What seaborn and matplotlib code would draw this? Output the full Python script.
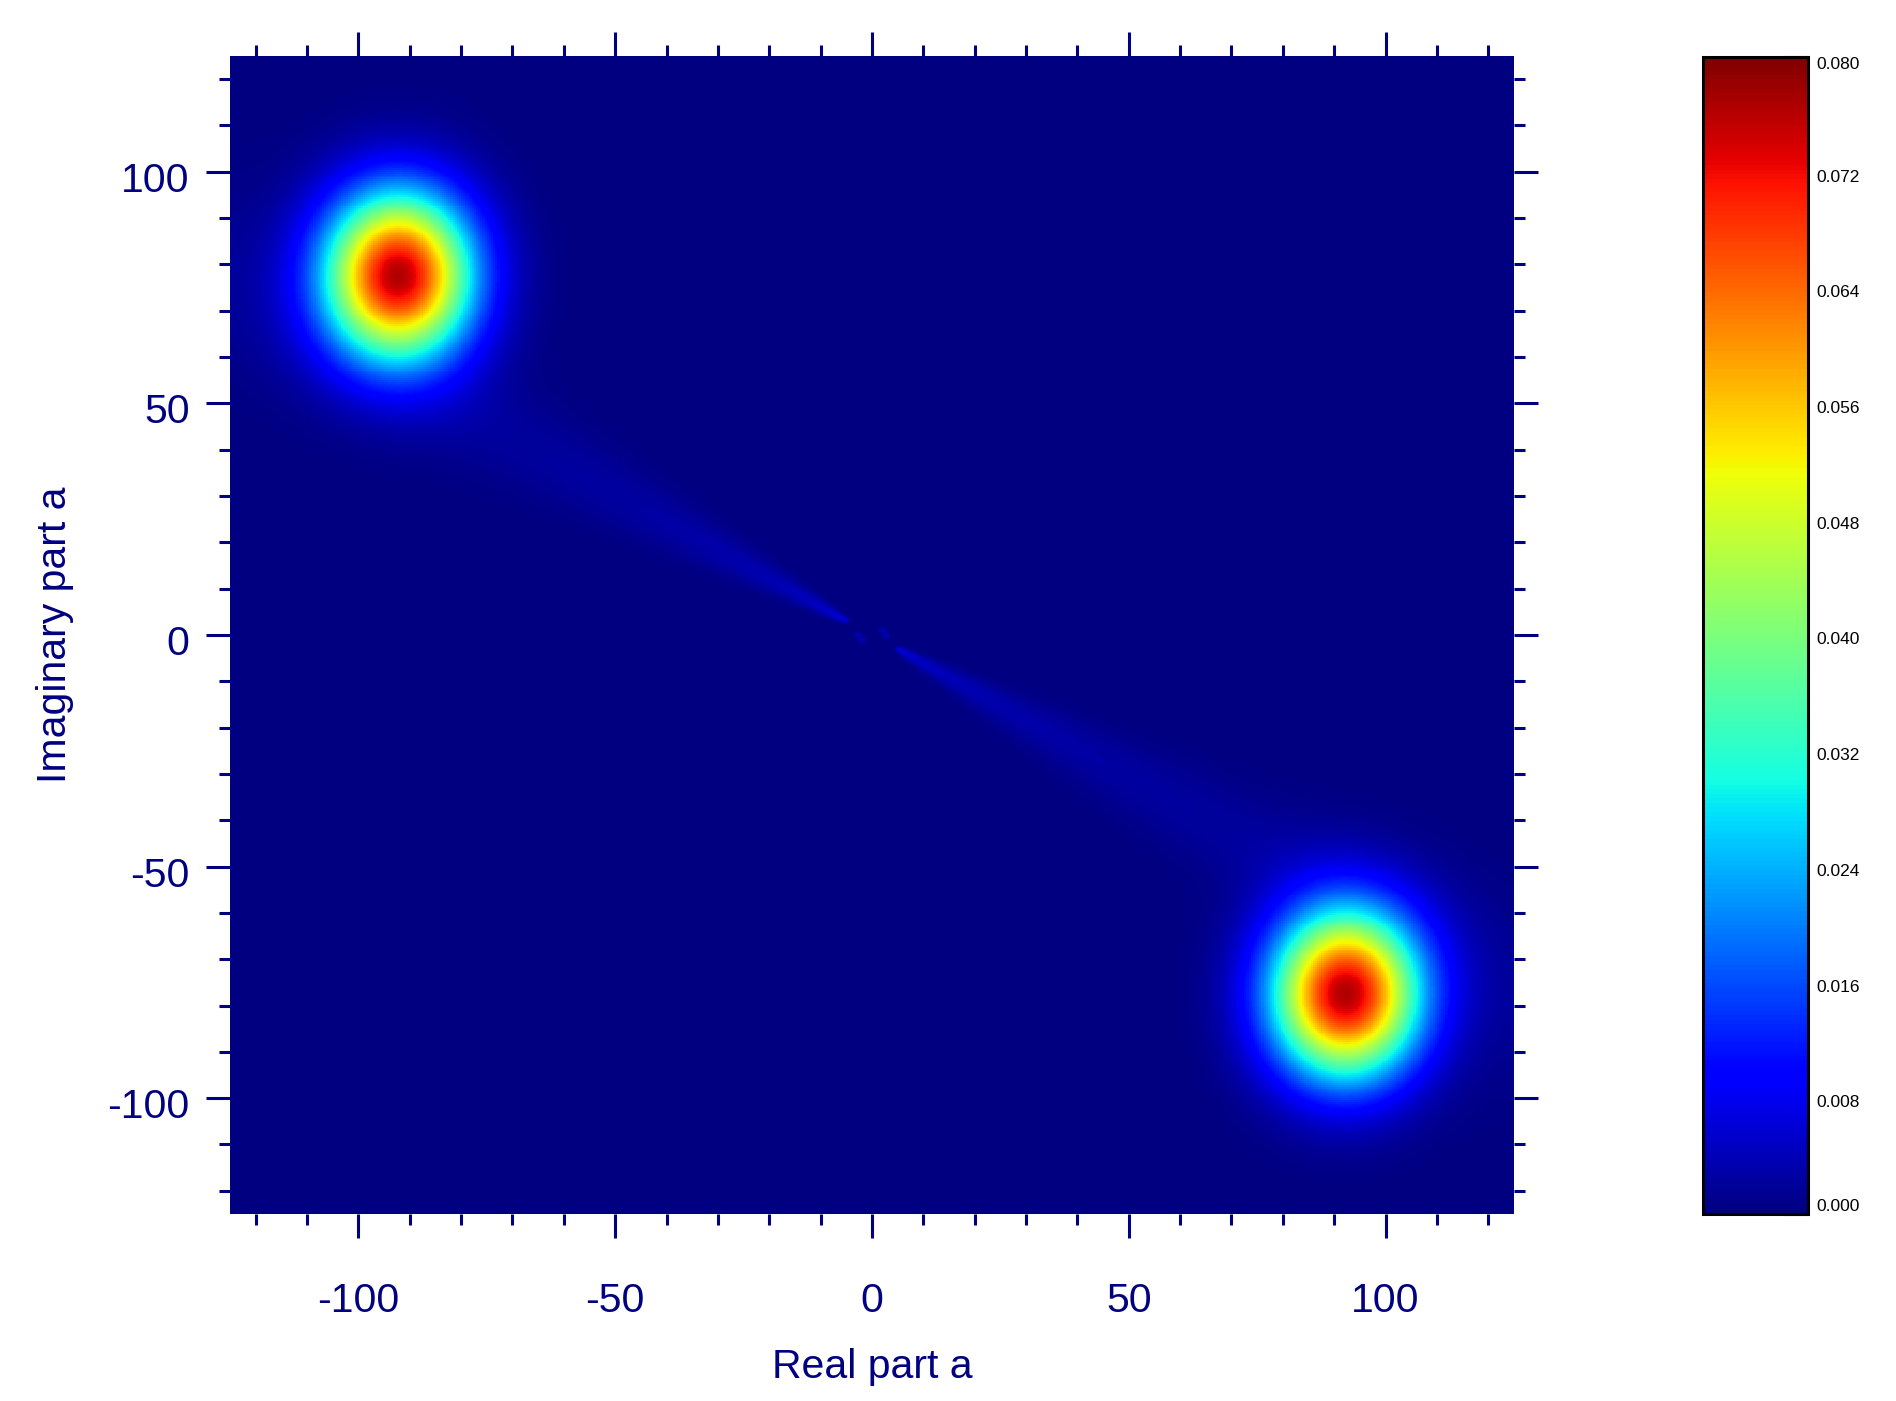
import numpy as np
import pandas as pd
import matplotlib
matplotlib.use("Agg")
import matplotlib.pyplot as plt
import matplotlib.transforms as mtransforms
import seaborn as sns

# ---------------- data ----------------
X_RANGE = [-125.0, 125.0]
Y_RANGE = [-125.0, 125.0]
GRID_N = 600

# two main peaks
blob_x = [-92.2, 92.2]
blob_y = [77.6, -77.6]
blob_peak = [0.0762, 0.0762]
blob_sigma_x = [9.9, 9.9]
blob_sigma_y = [12.4, 12.4]

# faint streak through the origin
streak_slope = -0.61
streak_tip = 5.5
streak_tip_value = 0.0065
streak_decay_power = 0.42
streak_width_per_unit = 0.09

# tiny dots near the origin
dot_x = [-2.8, -2.0, 2.0, 2.8]
dot_y = [0.1, -1.0, 1.0, -0.1]
dot_value = [0.0044, 0.0044, 0.0044, 0.0044]
dot_sigma = [0.45, 0.45, 0.45, 0.45]

x_major = [-100, -50, 0, 50, 100]
x_minor = list(range(-120, 121, 10))
y_major = [-100, -50, 0, 50, 100]
y_minor = list(range(-120, 121, 10))
cbar_major = [0.000, 0.008, 0.016, 0.024, 0.032, 0.040, 0.048, 0.056, 0.064, 0.072, 0.080]
cbar_minor = [0.004, 0.012, 0.020, 0.028, 0.036, 0.044, 0.052, 0.060, 0.068, 0.076]
VMIN, VMAX = 0.0, 0.080

# ---------------- field ----------------
dx = (X_RANGE[1] - X_RANGE[0]) / GRID_N
dy = (Y_RANGE[1] - Y_RANGE[0]) / GRID_N
xc = np.linspace(X_RANGE[0] + dx / 2, X_RANGE[1] - dx / 2, GRID_N)
yc = np.linspace(Y_RANGE[1] - dy / 2, Y_RANGE[0] + dy / 2, GRID_N)  # top row first
XX, YY = np.meshgrid(xc, yc)

Z = np.zeros_like(XX)
for bx, by, bp, sx, sy in zip(blob_x, blob_y, blob_peak, blob_sigma_x, blob_sigma_y):
    Z += bp * np.exp(-((XX - bx) ** 2 / (2 * sx ** 2) + (YY - by) ** 2 / (2 * sy ** 2)))

norm = np.hypot(1.0, streak_slope)
ux, uy = 1.0 / norm, streak_slope / norm
s = np.abs(XX * ux + YY * uy)
t = -XX * uy + YY * ux
s_safe = np.maximum(s, 1e-3)
amp = streak_tip_value * (np.maximum(s_safe, streak_tip) / streak_tip) ** (-streak_decay_power)
w = streak_width_per_unit * s_safe
taper = 0.5 * (1 + np.tanh((s - streak_tip) / 0.4))
Z += amp * np.exp(-t ** 2 / (2 * w ** 2)) * taper

for px, py, pv, ps in zip(dot_x, dot_y, dot_value, dot_sigma):
    Z += pv * np.exp(-((XX - px) ** 2 + (YY - py) ** 2) / (2 * ps ** 2))

Z = np.clip(Z, VMIN, VMAX)
df = pd.DataFrame(Z, index=np.round(yc, 3), columns=np.round(xc, 3))

# ---------------- plot ----------------
sns.set_style("white")
plt.rcParams["font.family"] = ["Liberation Sans", "DejaVu Sans"]
NAVY = "#000080"

fig = plt.figure(figsize=(18.96, 14.01), dpi=100)
ax = fig.add_axes([0.1213, 0.1335, 0.6772, 0.8266])
cax = fig.add_axes([0.8982, 0.1335, 0.0554, 0.8259])

sns.heatmap(df, ax=ax, cbar_ax=cax, cmap="jet", vmin=VMIN, vmax=VMAX,
            xticklabels=False, yticklabels=False)

# main axis ticks mapped through data range -> cell index
ax.set_xticks(np.interp(x_major, X_RANGE, [0, GRID_N]))
ax.set_xticklabels([str(v) for v in x_major])
ax.set_xticks(np.interp(x_minor, X_RANGE, [0, GRID_N]), minor=True)
ax.set_yticks(np.interp(y_major, Y_RANGE, [GRID_N, 0]))
ax.set_yticklabels([str(v) for v in y_major], rotation=0)
ax.set_yticks(np.interp(y_minor, Y_RANGE, [GRID_N, 0]), minor=True)

ax.tick_params(which="both", direction="out", color=NAVY, labelcolor=NAVY,
               top=True, bottom=True, left=True, right=True,
               labeltop=False, labelright=False)
ax.tick_params(which="major", length=17.5, width=2.2)
ax.tick_params(which="minor", length=8, width=2.2)
ax.tick_params(axis="x", which="major", labelsize=29.5, pad=31.5)
ax.tick_params(axis="y", which="major", labelsize=29.5, pad=11.5)

# IDL-style: y labels sit slightly below their ticks
down = mtransforms.ScaledTranslation(0, -5 / 100, fig.dpi_scale_trans)
for tk in ax.yaxis.get_major_ticks():
    tk.label1.set_transform(tk.label1.get_transform() + down)

ax.set_xlabel("Real part a", fontsize=29.5, color=NAVY)
ax.set_ylabel("Imaginary part a", fontsize=29.5, color=NAVY)
ax.xaxis.set_label_coords(0.5, -0.116)
ax.yaxis.set_label_coords(-0.1215, 0.5)

# colorbar
cbar = ax.collections[0].colorbar
cbar.set_ticks(cbar_major)
cbar.set_ticklabels([f"{v:.3f}" for v in cbar_major])
cbar.set_ticks(cbar_minor, minor=True)
cbar.outline.set_visible(True)
cbar.outline.set_linewidth(2.2)
cbar.outline.set_edgecolor("black")
cax.tick_params(which="both", direction="in", color="black", labelcolor="black",
                right=True, left=False, labelright=True, labelleft=False)
cax.tick_params(which="major", length=18, width=2.2, labelsize=12.5, pad=6)
cax.tick_params(which="minor", length=8.6, width=2.2)
cdown = mtransforms.ScaledTranslation(0, -3 / 100, fig.dpi_scale_trans)
cticks = cax.yaxis.get_major_ticks()
for tk in cticks[1:-1]:
    tk.label2.set_transform(tk.label2.get_transform() + cdown)
cticks[0].label2.set_va("bottom")
cticks[-1].label2.set_va("top")

fig.savefig("out.png", dpi=100)
